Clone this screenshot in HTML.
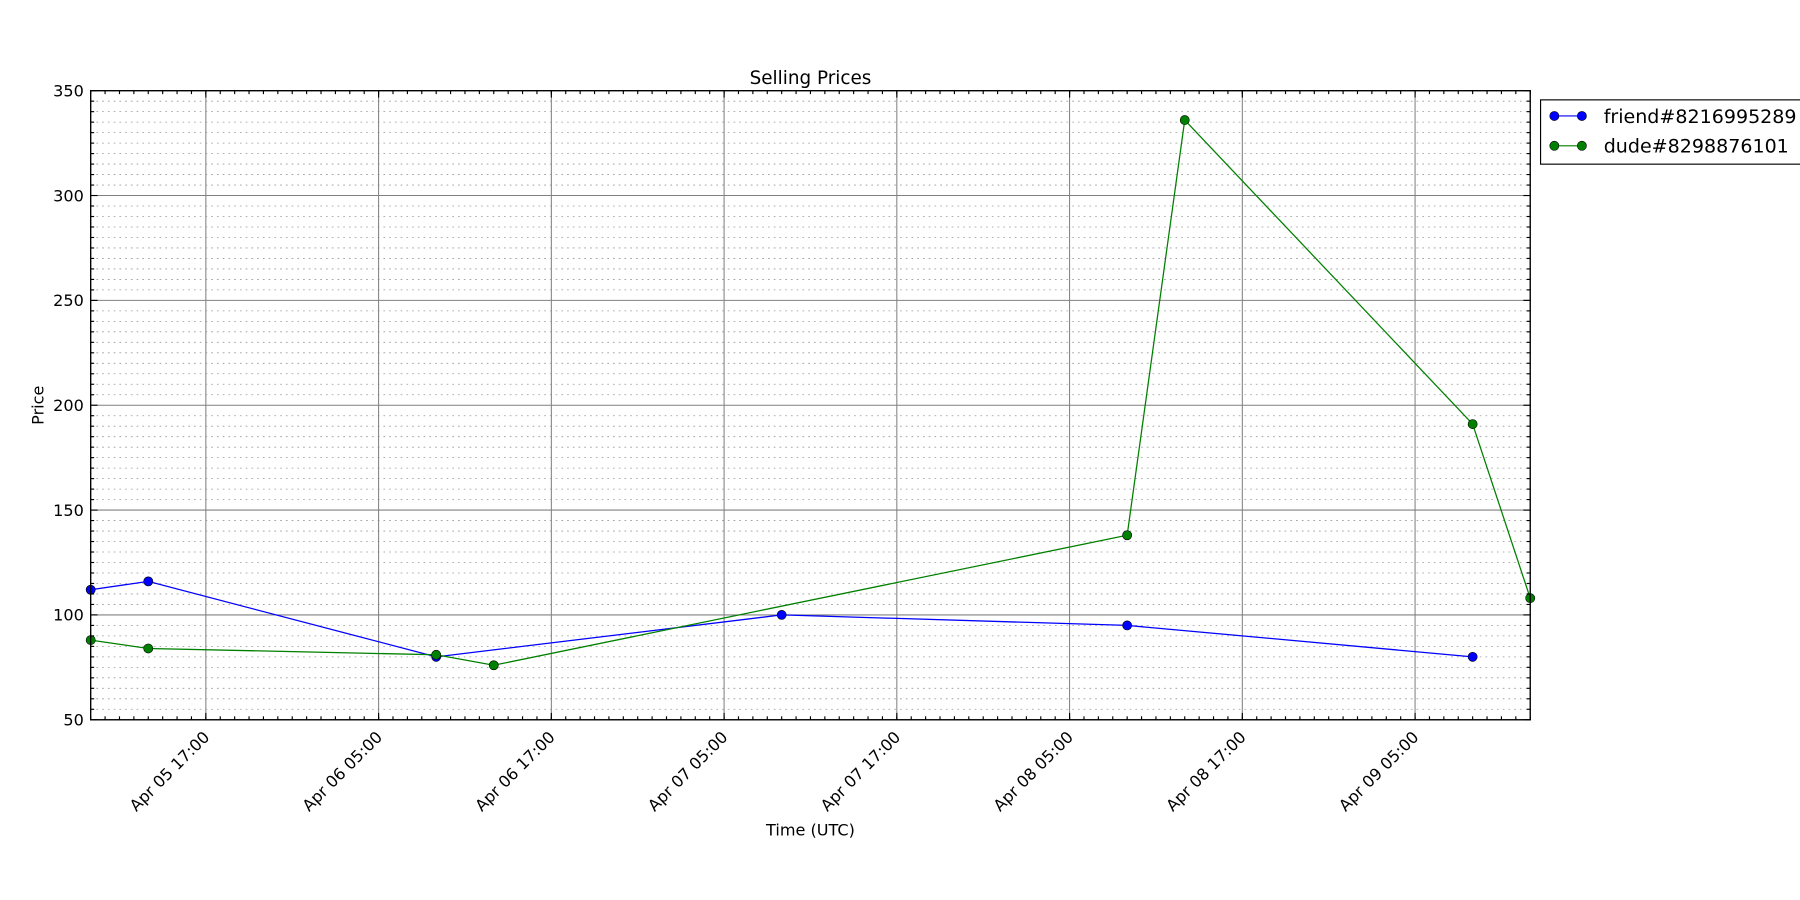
<!DOCTYPE html>
<html><head><meta charset="utf-8"><style>
html,body{margin:0;padding:0;background:#fff;overflow:hidden;}
svg{display:block;font-family:"DejaVu Sans","Liberation Sans",sans-serif;}
</style></head><body>
<svg id="chart" width="1800" height="900" viewBox="0 0 1568 784" xmlns="http://www.w3.org/2000/svg">
<rect width="1568" height="784" fill="#fff"/>
<g id="grid"></g>
<g id="series"></g>
<rect x="79" y="79" width="1254" height="548" fill="none" stroke="#000" stroke-width="1.2"/>
<g id="ticks"></g>
<text x="706" y="73" font-size="16" text-anchor="middle">Selling Prices</text>
<text x="706" y="728" font-size="14" text-anchor="middle">Time (UTC)</text>
<text transform="translate(38,353) rotate(-90)" font-size="14" text-anchor="middle">Price</text>
<g>
<rect x="1342" y="87" width="260" height="56" fill="#fff" stroke="#000" stroke-width="1"/>
<g><line x1="1354" y1="101" x2="1378" y2="101" stroke="#0000ff"/><circle cx="1354" cy="101" r="4" fill="#0000ff" stroke="#000" stroke-width="0.5"/><circle cx="1378" cy="101" r="4" fill="#0000ff" stroke="#000" stroke-width="0.5"/><text x="1397" y="107" font-size="16.6">friend#8216995289</text></g>
<g><line x1="1354" y1="127" x2="1378" y2="127" stroke="#008000"/><circle cx="1354" cy="127" r="4" fill="#008000" stroke="#000" stroke-width="0.5"/><circle cx="1378" cy="127" r="4" fill="#008000" stroke="#000" stroke-width="0.5"/><text x="1397" y="133" font-size="16.6">dude#8298876101</text></g>
</g>
</svg>
<script>
// hours since Apr 05 09:00 UTC
const friendHours = [0, 4, 24, 48, 72, 96];
const friendPrices = [112, 116, 80, 100, 95, 80];
const dudeHours = [0, 4, 24, 28, 72, 76, 96, 100];
const dudePrices = [88, 84, 81, 76, 138, 336, 191, 108];
const yTicks = [50, 100, 150, 200, 250, 300, 350];
const xTickHours = [8, 20, 32, 44, 56, 68, 80, 92];
const xTickLabels = ["Apr 05 17:00","Apr 06 05:00","Apr 06 17:00","Apr 07 05:00","Apr 07 17:00","Apr 08 05:00","Apr 08 17:00","Apr 09 05:00"];

const L=79,R=1333,T=79,B=627,H0=0,H1=100,Y0=50,Y1=350;
const xs=h=>L+(h-H0)/(H1-H0)*(R-L);
const ys=v=>B-(v-Y0)/(Y1-Y0)*(B-T);
const NS="http://www.w3.org/2000/svg";
function mk(tag,parent,attrs){const e=document.createElementNS(NS,tag);for(const k in attrs)e.setAttribute(k,attrs[k]);parent.appendChild(e);return e;}
const grid=document.getElementById('grid'),ticks=document.getElementById('ticks'),series=document.getElementById('series');
for(let v=Y0;v<=Y1;v+=5){
  const y=ys(v);const major=v%50===0;
  const ln=mk('line',grid,{x1:L,x2:R,y1:y,y2:y,stroke:major?'#808080':'#999','stroke-width':major?0.9:0.7,'stroke-dasharray':major?'none':'1.5,3.5'});
  
  
  const len=major?6:3;
  mk('line',ticks,{x1:L,x2:L+len,y1:y,y2:y,stroke:'#000'});
  mk('line',ticks,{x1:R,x2:R-len,y1:y,y2:y,stroke:'#000'});
}
yTicks.forEach(v=>{
  const t=mk('text',ticks,{x:L-6,y:ys(v)+5,'font-size':14,'text-anchor':'end'});
  t.textContent=v;
  
  
});
for(let h=H0;h<=H1;h++){
  const x=xs(h);
  mk('line',ticks,{x1:x,x2:x,y1:B,y2:B-3,stroke:'#000'});
  mk('line',ticks,{x1:x,x2:x,y1:T,y2:T+3,stroke:'#000'});
}
xTickHours.forEach((h,i)=>{
  const x=xs(h);
  const g=mk('line',grid,{x1:x,x2:x,y1:T,y2:B,stroke:'#808080','stroke-width':0.9});
  
  
  mk('line',ticks,{x1:x,x2:x,y1:B,y2:B-6,stroke:'#000'});
  mk('line',ticks,{x1:x,x2:x,y1:T,y2:T+6,stroke:'#000'});
  const t=mk('text',ticks,{x:x+4,y:B+16,'font-size':14,'text-anchor':'end',transform:`rotate(-45 ${x+4} ${B+16})`});
  t.textContent=xTickLabels[i];
  
  
});
function draw(hours,prices,color,name){
  const g=mk('g',series,{});
  
  
  const pts=hours.map((h,i)=>xs(h)+','+ys(prices[i])).join(' ');
  mk('polyline',g,{points:pts,fill:'none',stroke:color,'stroke-width':1.1});
  hours.forEach((h,i)=>{
    const c=mk('circle',g,{cx:xs(h),cy:ys(prices[i]),r:4,fill:color,stroke:'#000','stroke-width':0.5});
    
    
  });
}
draw(friendHours,friendPrices,'#0000ff','friend-series');
draw(dudeHours,dudePrices,'#008000','dude-series');
</script>
</body></html>
